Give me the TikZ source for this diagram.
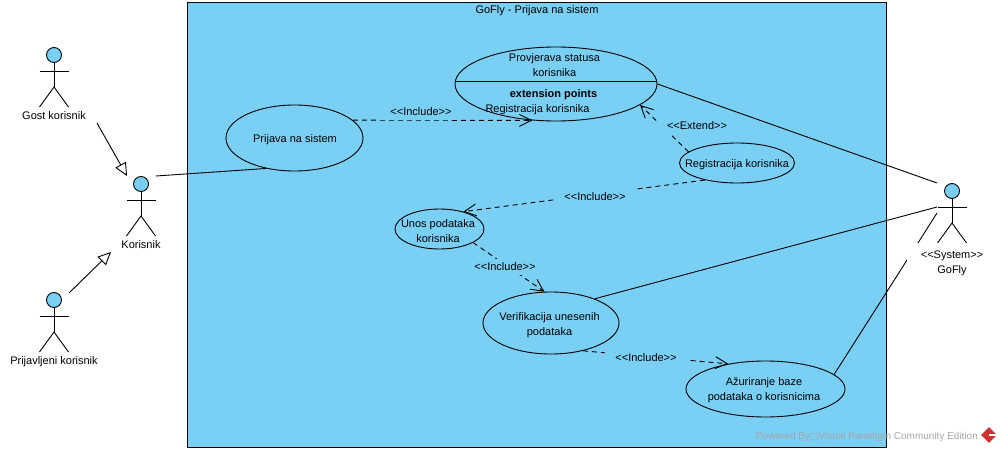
\documentclass[tikz,border=0pt]{standalone}
\usepackage{fontspec}
\setmainfont{Liberation Sans}
\newfontfamily\symbolfont{DejaVu Sans}
\usetikzlibrary{arrows.meta,shapes.geometric}
\definecolor{vpblue}{RGB}{122,207,245}
\definecolor{vpred}{RGB}{205,50,50}
\definecolor{vpgray}{RGB}{165,165,165}
\tikzset{
    every node/.style={font=\fontsize{11}{13}\selectfont, inner sep=0pt},
    usecase/.style={draw, ellipse, fill=vpblue, line width=0.9pt},
    naziv/.style={align=center},
    glava/.style={draw, circle, fill=vpblue, minimum size=15pt, line width=0.9pt},
    veza/.style={line width=0.9pt},
    ukljuci/.style={line width=0.9pt, dash pattern=on 5pt off 4pt, -{Straight Barb[length=12pt,width=12pt]}},
    nasledi/.style={line width=0.9pt, -{Triangle[open,length=13pt,width=12pt]}},
    oznaka/.style={fill=vpblue, inner xsep=10pt, minimum height=16pt},
}
\begin{document}
\begin{tikzpicture}[x=1pt,y=-1pt]
    \useasboundingbox (0,0) rectangle (1001,452);
    % sistem
    \node[draw, fill=vpblue, line width=0.9pt, minimum width=699pt, minimum height=445pt] (sistem) at (536.5,224.5) {};
    \node (sistemNaziv) at (537,11) {GoFly - Prijava na sistem};

    % akteri
    \foreach \ime/\x/\y in {gost/54/55, korisnik/141/184, prijavljeni/54/300, gofly/952/191} {
        \node[glava] (\ime) at (\x,\y) {};
        \draw[veza] (\ime.south) -- (\x,\y+32);
        \draw[veza] (\x-14.5,\y+16) -- (\x+14.5,\y+16);
        \draw[veza] (\x-14.5,\y+52) -- (\x,\y+32) -- (\x+14.5,\y+52);
    }
    \node (gostNaziv) at (54,116) {Gost korisnik};
    \node (korisnikNaziv) at (141,245) {Korisnik};
    \node (prijavljeniNaziv) at (54,362) {Prijavljeni korisnik};

    % slucajevi koriscenja
    \node[usecase, minimum width=137pt, minimum height=66pt] (prijava) at (294.5,138) {};
    \node[usecase, minimum width=202pt, minimum height=74pt] (provjerava) at (556,84) {};
    \node[usecase, minimum width=115pt, minimum height=40pt] (registracija) at (737,163) {};
    \node[usecase, minimum width=89pt, minimum height=40pt] (unos) at (439.5,229) {};
    \node[usecase, minimum width=136pt, minimum height=62pt] (verifikacija) at (551,323) {};
    \node[usecase, minimum width=159pt, minimum height=56pt] (azuriranje) at (765.5,389) {};

    \coordinate (podelaLevo) at (455.2,81.7);
    \coordinate (podelaDesno) at (656.8,81.7);
    \draw[veza] (podelaLevo) -- (podelaDesno);
    \node[naziv] (prijavaNaziv) at (295,140) {Prijava na sistem};
    \node[naziv] (provjeravaNaziv) at (554.5,65.5) {Provjerava statusa\\[2pt]korisnika};
    \node[font=\fontsize{11}{13}\selectfont\bfseries] (tackeNaziv) at (553.5,95) {extension points};
    \node (tackaRegistracija) at (537.5,110) {Registracija korisnika};
    \node[naziv] (registracijaNaziv) at (737,165) {Registracija korisnika};
    \node[naziv] (unosNaziv) at (438,231) {Unos podataka\\[2pt]korisnika};
    \node[naziv] (verifikacijaNaziv) at (549.5,325) {Verifikacija unesenih\\[2pt]podataka};
    \node[naziv] (azuriranjeNaziv) at (764,390) {Ažuriranje baze\\[2pt]podataka o korisnicima};

    % krajevi veza
    \coordinate (gostIzlaz) at (97,123);
    \coordinate (gostUlaz) at (127,176);
    \coordinate (prijavljeniIzlaz) at (69,293);
    \coordinate (prijavljeniUlaz) at (111,252);
    \coordinate (korisnikKraj) at (156,176);
    \coordinate (goflyGore) at (937,183);
    \coordinate (goflySredina) at (937,207);
    \coordinate (goflyDole) at (937,213);

    % veze
    \draw[nasledi] (gostIzlaz) -- (gostUlaz);
    \draw[nasledi] (prijavljeniIzlaz) -- (prijavljeniUlaz);
    \draw[veza] (korisnikKraj) -- (prijava.227);
    \draw[veza] (provjerava.east) -- (goflyGore);
    \draw[veza] (verifikacija.29) -- (goflySredina);
    \draw[veza] (azuriranje.12) -- (goflyDole);
    \draw[ukljuci] (prijava.17) -- (provjerava.237);
    \draw[ukljuci] (registracija.167) -- (provjerava.346);
    \draw[ukljuci] (registracija.208) -- (unos.36);
    \draw[ukljuci] (unos.338) -- (verifikacija.102);
    \draw[ukljuci] (verifikacija.319) -- (azuriranje.146);

    % oznake veza
    \node[oznaka] (ukljuciPrva) at (421,112) {{<}{<}Include{>}{>}};
    \node[oznaka] (prosiri) at (697,126) {{<}{<}Extend{>}{>}};
    \node[oznaka] (ukljuciDruga) at (595,197) {{<}{<}Include{>}{>}};
    \node[oznaka] (ukljuciTreca) at (505,267) {{<}{<}Include{>}{>}};
    \node[oznaka] (ukljuciCetvrta) at (646,358) {{<}{<}Include{>}{>}};

    \node[fill=white, minimum width=90pt, text height=15pt, text depth=4pt] (goflyStereotip) at (952,252.5) {{<}{<}System{>}{>}};
    \node (goflyNaziv) at (952,271) {GoFly};

    % vodeni zig
    \node[text=vpgray, font=\fontsize{10}{12}\selectfont] (vodeniZig) at (867,436.5) {Powered By{\symbolfont\fontsize{9}{9}\selectfont □}Visual Paradigm Community Edition};
    \node[diamond, fill=vpred, minimum size=16pt] (logo) at (989,435) {};
    \draw[white, line width=1.4pt] (logo.center) -- (logo.east);
\end{tikzpicture}
\end{document}
